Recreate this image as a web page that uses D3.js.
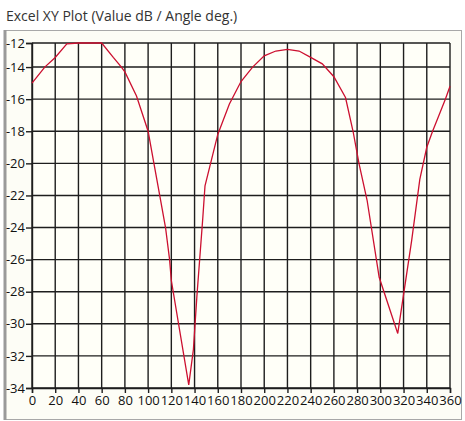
<!DOCTYPE html>
<html>
<head>
<meta charset="utf-8">
<script src="https://cdn.jsdelivr.net/npm/d3@7"></script>
<style>
  html, body { margin: 0; padding: 0; background: #ffffff; }
  svg { display: block; }
</style>
</head>
<body>
<svg id="chart" width="465" height="421"></svg>
<script>
const title = "Excel XY Plot (Value dB / Angle deg.)";
const angles = [0, 11, 20, 30, 40, 50, 60, 70, 77, 80, 90, 100, 105, 110, 115, 118.5, 120, 135, 139, 142, 147, 149, 160, 170, 180, 190, 200, 210, 220, 230, 240, 250, 260, 270, 276.5, 281.6, 288.6, 299, 315, 327, 334, 340, 345, 350, 356, 360];
const values = [-15, -14, -13.4, -12.55, -12.15, -12.05, -12.4, -13.4, -14, -14.3, -15.8, -18, -20, -22, -24, -26, -27.3, -33.8, -31.6, -28.3, -23.5, -21.4, -18.2, -16.3, -14.9, -14.0, -13.3, -13.0, -12.9, -13.0, -13.4, -13.8, -14.6, -15.9, -18, -20, -22.3, -27.1, -30.6, -24.8, -21, -19, -18, -17.1, -16, -15.2];
const xTicks = [0, 20, 40, 60, 80, 100, 120, 140, 160, 180, 200, 220, 240, 260, 280, 300, 320, 340, 360];
const yTicks = [-12, -14, -16, -18, -20, -22, -24, -26, -28, -30, -32, -34];

const svg = d3.select("#chart");
const font = "'Open Sans', 'DejaVu Sans', sans-serif";

// chart box
svg.append("rect").attr("x", 4.5).attr("y", 30.5).attr("width", 457).attr("height", 389)
  .attr("fill", "#fdfdf6").attr("stroke", "#a8a8a8").attr("stroke-width", 1);
svg.append("line").attr("x1", 5).attr("x2", 5).attr("y1", 30).attr("y2", 420)
  .attr("stroke", "#9a9a9a").attr("stroke-width", 3);

// title
svg.append("text").attr("x", 6).attr("y", 21).text(title)
  .attr("font-family", font).attr("font-size", 14).attr("fill", "#333");

const x = d3.scaleLinear().domain([0, 360]).range([32, 450]);
const y = d3.scaleLinear().domain([-34, -12.5]).range([388, 43]).clamp(true);

// plot area background
svg.append("rect").attr("x", x(0)).attr("y", y(-12)).attr("width", x(360) - x(0)).attr("height", y(-34) - y(-12))
  .attr("fill", "#fffff8");

// gridlines
const grid = svg.append("g").attr("stroke", "#1e1e1e").attr("stroke-width", 1.4);
grid.selectAll("line.v").data(xTicks).join("line").attr("class", "v")
  .attr("x1", d => x(d)).attr("x2", d => x(d)).attr("y1", y(-12)).attr("y2", y(-34));
grid.selectAll("line.h").data(yTicks).join("line").attr("class", "h")
  .attr("x1", x(0)).attr("x2", x(360)).attr("y1", d => y(d)).attr("y2", d => y(d));

// axes
const yAxis = svg.append("g").attr("transform", `translate(${x(0)},0)`)
  .call(d3.axisLeft(y).tickValues(yTicks).tickSize(6).tickPadding(1).tickFormat(d3.format("d")));
const xAxis = svg.append("g").attr("transform", `translate(0,${y(-34)})`)
  .call(d3.axisBottom(x).tickValues(xTicks).tickSize(5).tickPadding(3).tickFormat(d3.format("d")));
[yAxis, xAxis].forEach(a => {
  a.select(".domain").attr("stroke", "#1e1e1e").attr("stroke-width", 1.4);
  a.selectAll(".tick line").attr("stroke", "#1e1e1e").attr("stroke-width", 1.4);
  a.selectAll("text").attr("font-family", font).attr("font-size", 13).attr("fill", "#111");
});
yAxis.selectAll("text").text(d => "-" + Math.abs(d));

// series
const pts = angles.map((a, i) => [a, values[i]]);
svg.append("path").datum(pts)
  .attr("fill", "none").attr("stroke", "#cc1030").attr("stroke-width", 1.3)
  .attr("d", d3.line().x(d => x(d[0])).y(d => y(d[1])));
</script>
</body>
</html>
